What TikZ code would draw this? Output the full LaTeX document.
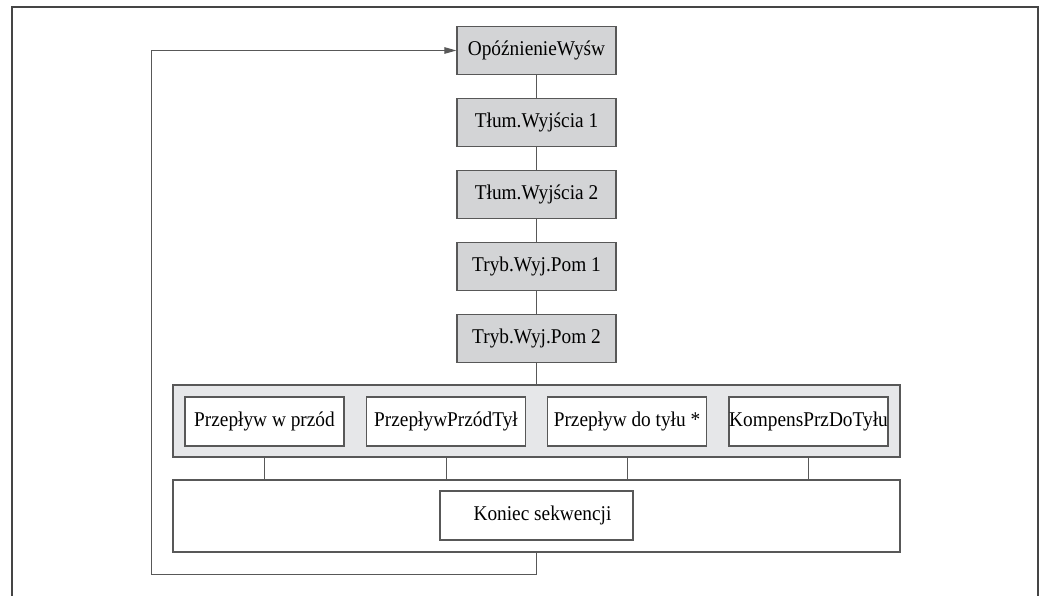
\documentclass[tikz,border=0pt]{standalone}
\usepackage{fontspec}
\setmainfont[FakeStretch=0.92]{Liberation Serif}
\usetikzlibrary{arrows.meta}
\definecolor{Frame}{HTML}{454545}
\definecolor{Edge}{HTML}{585858}
\definecolor{ParamGray}{HTML}{D3D4D6}
\definecolor{GroupGray}{HTML}{E6E7E9}

\begin{document}
\begin{tikzpicture}[x=1pt,y=-1pt,
    param/.style={draw=Edge,fill=ParamGray,line width=1.2pt,inner sep=0pt,
      minimum width=159pt,minimum height=48pt,font=\fontsize{21}{25}\selectfont},
    option/.style={param,fill=white,minimum height=49pt},
    group/.style={draw=Edge,line width=1.2pt,inner sep=0pt,
      minimum width=727pt,minimum height=72pt},
    link/.style={draw=Edge,line width=1pt}]
    \useasboundingbox (0,0) rectangle (1040,596);
    \draw[Frame,line width=1.5pt] (12,610) -- (12,7) -- (1038,7) -- (1038,610);
    % parameter chain
    \foreach \i/\lab in {
      1/OpóźnienieWyśw,2/Tłum.Wyjścia 1,3/Tłum.Wyjścia 2,
      4/Tryb.Wyj.Pom 1,5/Tryb.Wyj.Pom 2}
      {
        \node[param] (p\i) at (536.5,{50.5+72*(\i-1)}) {\lab};
      }
    \foreach \i [evaluate=\i as \j using int(\i+1)] in {1,...,4}
      \draw[link] (p\i) -- (p\j);
    % choice group
    \node[group,fill=GroupGray] (grp) at (536.5,421) {};
    \foreach \i/\x/\lab in {
      1/264.5/Przepływ w przód,2/446/PrzepływPrzódTył,
      3/627/Przepływ do tyłu *,4/808.5/KompensPrzDoTyłu}
      {
        \node[option] (opt\i) at (\x,421.5) {\lab};
      }
    \draw[link] (p5) -- (grp);
    % end of sequence
    \node[group,fill=white] (endgrp) at (536.5,516) {};
    \node[option,minimum width=193pt] (end) at (536.5,515.5)
      {\hspace*{12pt}Koniec sekwencji};
    \foreach \i in {1,...,4}
      \draw[link] (opt\i |- grp.south) -- (opt\i |- endgrp.north);
    \coordinate (back) at (151,574);
    \draw[link,-{Triangle[length=12pt,width=6.5pt]}]
      (endgrp.south) |- (back) |- (p1.west);
  \end{tikzpicture}
\end{document}
